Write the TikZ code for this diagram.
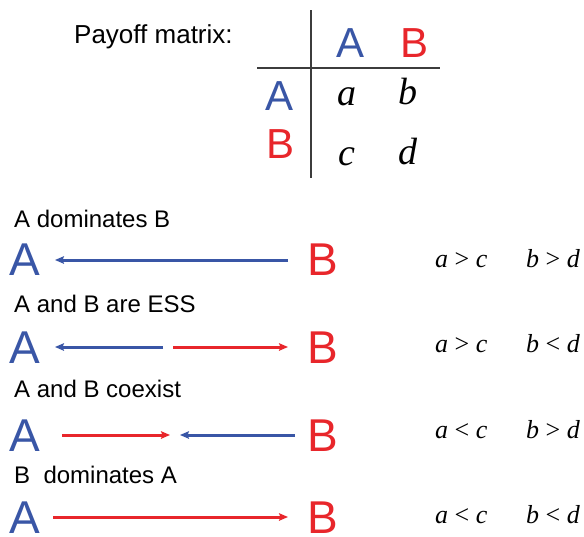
\documentclass[tikz,border=0pt]{standalone}
\usepackage{fontspec}
\setmainfont{Liberation Sans}
\newfontfamily\serifit{Liberation Serif}[ItalicFont={* Italic}]
\usetikzlibrary{arrows.meta}
\definecolor{myblue}{RGB}{57,86,166}
\definecolor{myred}{RGB}{232,38,43}
\definecolor{linegray}{RGB}{60,60,60}
\tikzset{
  bigA/.style={inner sep=0pt, text=myblue, font=\fontsize{46}{46}\selectfont},
  bigB/.style={inner sep=0pt, text=myred, font=\fontsize{46}{46}\selectfont},
  hdrA/.style={inner sep=0pt, anchor=base, text=myblue, font=\fontsize{42}{42}\selectfont},
  hdrB/.style={inner sep=0pt, anchor=base, text=myred, font=\fontsize{42}{42}\selectfont},
  entry/.style={inner sep=0pt, anchor=base, font=\fontsize{38}{38}\serifit\itshape},
  cond/.style={inner sep=0pt, anchor=base west, font=\fontsize{26}{26}\serifit},
  subtitle/.style={inner sep=0pt, anchor=base west, font=\fontsize{24}{24}\selectfont},
  blarrow/.style={draw=myblue, line width=3pt, -{Stealth[length=9pt,width=7.5pt,inset=1.5pt]}},
  rdarrow/.style={draw=myred, line width=3pt, -{Stealth[length=9pt,width=7.5pt,inset=1.5pt]}},
  grid/.style={draw=linegray, line width=1.5pt}
}
\newcommand{\cnd}[3]{\textit{#1}~#2~\textit{#3}}
\begin{document}
\begin{tikzpicture}[x=1pt,y=-1pt]
\useasboundingbox (0,0) rectangle (584,536);
% Payoff matrix
\node[inner sep=0pt, anchor=base west, font=\fontsize{26}{26}\selectfont] (title) at (74,43) {Payoff matrix:};
\coordinate (vtop) at (311,10);
\coordinate (vbot) at (311,178);
\coordinate (hl) at (257,68);
\coordinate (hr) at (440,68);
\draw[grid] (vtop) -- (vbot);
\draw[grid] (hl) -- (hr);
\node[hdrA] (hA) at (351,57) {A};
\node[hdrB] (hB) at (415,57) {B};
\node[hdrA] (rA) at (280,110) {A};
\node[hdrB] (rB) at (281,158) {B};
\node[entry] (ea) at (347,105) {a};
\node[entry] (eb) at (408,104) {b};
\node[entry] (ec) at (347,165) {c};
\node[entry] (ed) at (408,164) {d};
% Row 1
\node[subtitle] (s1) at (14,227) {A dominates B};
\node[bigA] (A1) at (25,260) {A};
\node[bigB] (B1) at (323,260) {B};
\coordinate (r1s) at (288,260);
\coordinate (r1e) at (55,260);
\draw[blarrow] (r1s) -- (r1e);
\node[cond] (c1a) at (435,267) {\cnd{a}{>}{c}};
\node[cond] (c1b) at (526,267) {\cnd{b}{>}{d}};
% Row 2
\node[subtitle] (s2) at (14,312) {A and B are ESS};
\node[bigA] (A2) at (25,348) {A};
\node[bigB] (B2) at (323,348) {B};
\coordinate (r2a) at (163,347);
\coordinate (r2b) at (55,347);
\coordinate (r2c) at (173,347);
\coordinate (r2d) at (288,347);
\draw[blarrow] (r2a) -- (r2b);
\draw[rdarrow] (r2c) -- (r2d);
\node[cond] (c2a) at (435,352) {\cnd{a}{>}{c}};
\node[cond] (c2b) at (526,352) {\cnd{b}{<}{d}};
% Row 3
\node[subtitle] (s3) at (14,397) {A and B coexist};
\node[bigA] (A3) at (25,436) {A};
\node[bigB] (B3) at (323,436) {B};
\coordinate (r3a) at (62,435);
\coordinate (r3b) at (170,435);
\coordinate (r3c) at (295,435);
\coordinate (r3d) at (180,435);
\draw[rdarrow] (r3a) -- (r3b);
\draw[blarrow] (r3c) -- (r3d);
\node[cond] (c3a) at (435,438) {\cnd{a}{<}{c}};
\node[cond] (c3b) at (526,438) {\cnd{b}{>}{d}};
% Row 4
\node[subtitle] (s4) at (14,483) {B\ \ dominates A};
\node[bigA] (A4) at (25,518) {A};
\node[bigB] (B4) at (323,518) {B};
\coordinate (r4a) at (53,517);
\coordinate (r4b) at (288,517);
\draw[rdarrow] (r4a) -- (r4b);
\node[cond] (c4a) at (435,523) {\cnd{a}{<}{c}};
\node[cond] (c4b) at (526,523) {\cnd{b}{<}{d}};
\end{tikzpicture}
\end{document}
